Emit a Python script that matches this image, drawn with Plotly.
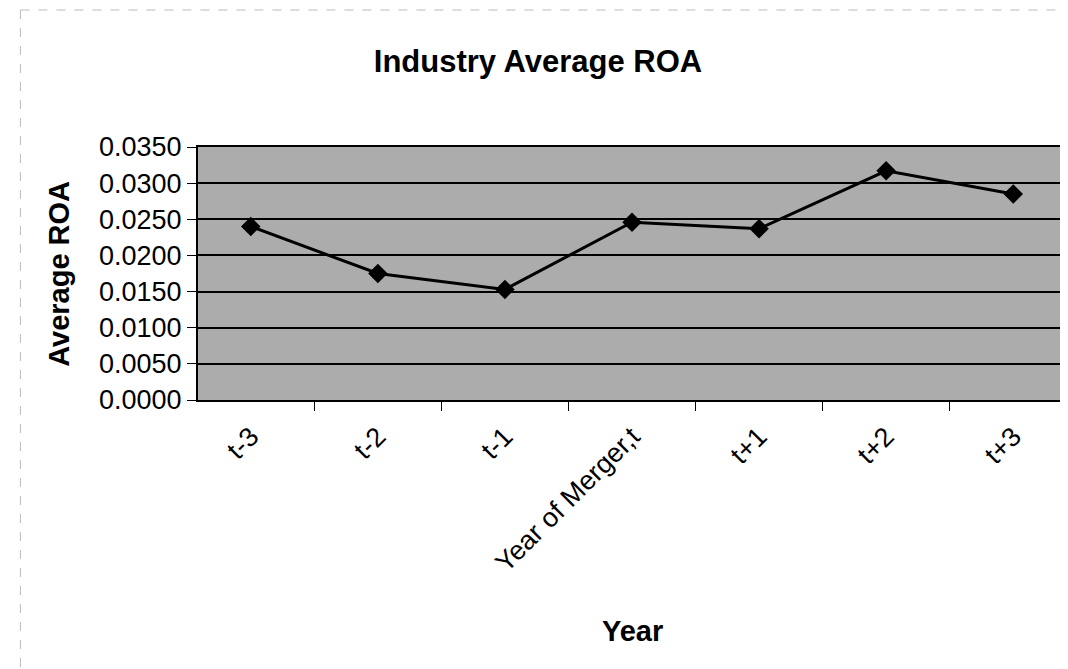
import plotly.graph_objects as go

# Industry average ROA around the merger year
years = ["t-3", "t-2", "t-1", "Year of Merger,t", "t+1", "t+2", "t+3"]
avg_roa = [0.0240, 0.0175, 0.0153, 0.0246, 0.0237, 0.0317, 0.0285]
y_ticks = [0.0, 0.005, 0.010, 0.015, 0.020, 0.025, 0.030, 0.035]

W, H = 1068, 669
L, R, T, B = 190, 8, 139, 277
font_name = "Liberation Sans, Arial, sans-serif"

fig = go.Figure()

fig.add_trace(go.Scatter(
    x=years, y=avg_roa, mode="lines+markers",
    line=dict(color="black", width=3),
    marker=dict(symbol="diamond", size=15, color="black"),
    showlegend=False,
))

fig.update_layout(
    width=W, height=H,
    margin=dict(l=L, r=R, t=T, b=B),
    paper_bgcolor="white",
    plot_bgcolor="#acacac",
    font=dict(family=font_name, color="black"),
    title=dict(text="<b>Industry Average ROA</b>", font=dict(size=31, color="black"),
               x=530 / W, xref="container", xanchor="center",
               y=1 - 53 / H, yref="container", yanchor="middle"),
    showlegend=False,
)

fig.update_xaxes(
    type="category", tickangle=-45, tickson="boundaries",
    ticks="outside", ticklen=9, tickcolor="black", tickwidth=1,
    tickfont=dict(size=27, color="black"), ticklabelstandoff=8,
    showgrid=False, zeroline=False,
    showline=True, linecolor="black", linewidth=2, mirror=True,
)

fig.update_yaxes(
    range=[0, 0.035], tickvals=y_ticks, tickformat=".4f",
    ticks="outside", ticklen=9, tickcolor="black", tickwidth=1,
    tickfont=dict(size=27, color="black"),
    showgrid=True, gridcolor="black", gridwidth=1.5,
    zeroline=False,
    showline=True, linecolor="black", linewidth=2, mirror=True,
)

# axis titles
plot_w = W - L - R
plot_h = H - T - B
fig.add_annotation(text="<b>Year</b>", xref="paper", yref="paper",
                   x=0.5, y=-(623 - (H - B)) / plot_h,
                   xanchor="center", yanchor="middle", showarrow=False,
                   font=dict(size=29, color="black"))
fig.add_annotation(text="<b>Average ROA</b>", xref="paper", yref="paper",
                   x=(50 - L) / plot_w, y=0.5, textangle=-90,
                   xanchor="center", yanchor="middle", showarrow=False,
                   font=dict(size=29, color="black"))

# faint scan border at top and left
fig.add_shape(type="line", xref="paper", yref="paper",
              x0=(12 - L) / plot_w, x1=(W - L) / plot_w,
              y0=(H - B - 2) / plot_h, y1=(H - B - 2) / plot_h,
              line=dict(color="#bbbbbb", width=1, dash="dash"))
fig.add_shape(type="line", xref="paper", yref="paper",
              x0=(12 - L) / plot_w, x1=(12 - L) / plot_w,
              y0=(H - B - 2) / plot_h, y1=-(H - 2 - (H - B)) / plot_h,
              line=dict(color="#bbbbbb", width=1, dash="dash"))

fig.write_html("out.html")
